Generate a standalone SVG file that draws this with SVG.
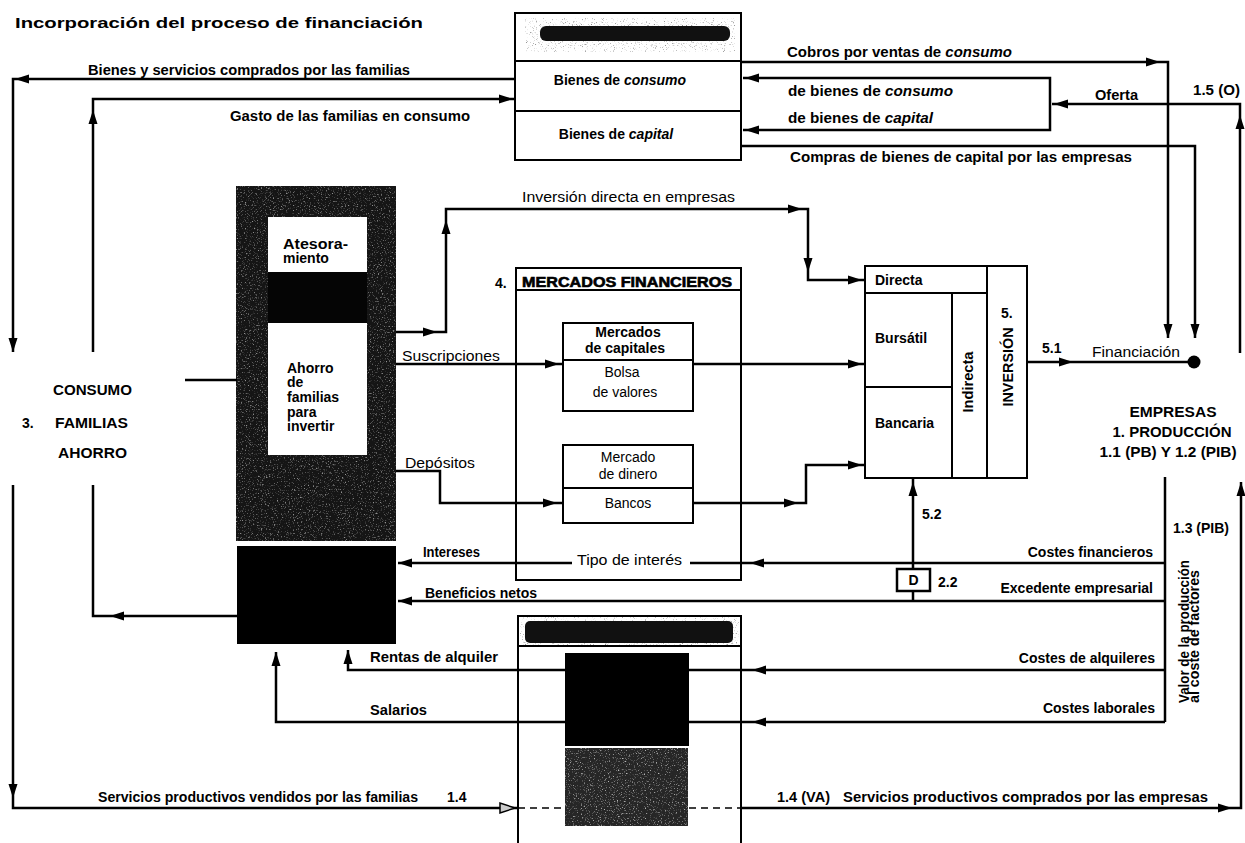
<svg xmlns="http://www.w3.org/2000/svg" xmlns:xlink="http://www.w3.org/1999/xlink" width="1245" height="843" viewBox="0 0 1245 843">
  <style>
    .t { font-family: "Liberation Sans", Arial, Helvetica, sans-serif; font-size: 14px; font-weight: bold; fill: #000; }
    .r { font-weight: normal; }
    .i { font-style: italic; }
    .box { fill: #fff; stroke: #000; stroke-width: 2; }
    .ln { fill: none; stroke: #000; stroke-width: 2; }
    .cn { fill: none; stroke: #000; stroke-width: 2.5; }
  </style>
  <defs>
    <!-- filled arrowhead, tip at the origin, pointing along +x -->
    <path id="ah" d="M0,0 L-14,-4.5 L-14,4.5 Z" fill="#000"/>
    <!-- light speckle used on the dark printed blocks -->
    <filter id="grainLight" x="0" y="0" width="1" height="1">
      <feTurbulence type="fractalNoise" baseFrequency="0.75" numOctaves="2" seed="7"/>
      <feColorMatrix type="matrix" values="0 0 0 0 0.8  0 0 0 0 0.8  0 0 0 0 0.8  4 0 0 0 -2.3"/>
      <feComposite in2="SourceGraphic" operator="in"/>
    </filter>
    <!-- dark speckle around smudged headings -->
    <filter id="grainDark" x="0" y="0" width="1" height="1">
      <feTurbulence type="fractalNoise" baseFrequency="0.9" numOctaves="2" seed="3"/>
      <feColorMatrix type="matrix" values="0 0 0 0 0.25  0 0 0 0 0.25  0 0 0 0 0.25  4 0 0 0 -2.4"/>
      <feComposite in2="SourceGraphic" operator="in"/>
    </filter>
  </defs>

  <rect width="1245" height="843" fill="#fff"/>

  <text class="t" x="15" y="28" font-size="18" textLength="408" lengthAdjust="spacingAndGlyphs">Incorporación del proceso de financiación</text>

  <!-- goods market -->
  <g id="mercado-bienes">
    <rect class="box" x="515" y="13" width="226" height="147"/>
    <line class="ln" x1="515" y1="61" x2="741" y2="61"/>
    <line class="ln" x1="515" y1="111" x2="741" y2="111"/>
    <rect x="525" y="18" width="210" height="34" fill="#000" filter="url(#grainDark)"/>
    <rect x="540" y="26" width="190" height="15" rx="6" fill="#111"/>
    <text class="t" x="620" y="85" text-anchor="middle">Bienes de <tspan class="i">consumo</tspan></text>
    <text class="t" x="616" y="139" text-anchor="middle">Bienes de <tspan class="i">capital</tspan></text>
  </g>

  <!-- household savings block -->
  <g id="ahorro-familias">
    <rect x="236" y="186" width="160" height="355" fill="#151515"/>
    <rect x="236" y="186" width="160" height="355" fill="#fff" opacity="0.6" filter="url(#grainLight)"/>
    <rect x="268" y="272" width="99" height="51" fill="#050505"/>
    <rect x="268" y="217" width="99" height="55" fill="#fff"/>
    <rect x="268" y="323" width="99" height="132" fill="#fff"/>
    <text class="t" x="283" y="249" textLength="65" lengthAdjust="spacingAndGlyphs">Atesora-</text>
    <text class="t" x="283" y="263">miento</text>
    <text class="t" x="287" y="373">Ahorro</text>
    <text class="t" x="287" y="387">de</text>
    <text class="t" x="287" y="402">familias</text>
    <text class="t" x="287" y="417">para</text>
    <text class="t" x="287" y="431">invertir</text>
  </g>

  <!-- households -->
  <g id="familias">
    <text class="t" x="53" y="395" textLength="79" lengthAdjust="spacingAndGlyphs">CONSUMO</text>
    <text class="t" x="22" y="428">3.</text>
    <text class="t" x="55" y="428" textLength="73" lengthAdjust="spacingAndGlyphs">FAMILIAS</text>
    <text class="t" x="58" y="458" textLength="69" lengthAdjust="spacingAndGlyphs">AHORRO</text>
  </g>

  <!-- financial markets -->
  <g id="mercados-financieros">
    <text class="t" x="495" y="288">4.</text>
    <rect class="box" x="516" y="268" width="225" height="312"/>
    <line class="ln" x1="516" y1="290" x2="741" y2="290"/>
    <text class="t" x="522" y="287" font-size="13.5" stroke="#000" stroke-width="0.6" textLength="210" lengthAdjust="spacingAndGlyphs">MERCADOS FINANCIEROS</text>
  </g>
  <g id="mercados-capitales">
    <rect class="box" x="563" y="323" width="130" height="88"/>
    <line class="ln" x1="563" y1="360" x2="693" y2="360"/>
    <text class="t" x="628" y="337" text-anchor="middle">Mercados</text>
    <text class="t" x="625" y="353" text-anchor="middle">de capitales</text>
    <text class="t r" x="622" y="377" text-anchor="middle">Bolsa</text>
    <text class="t r" x="625" y="397" text-anchor="middle">de  valores</text>
  </g>
  <g id="mercado-dinero">
    <rect class="box" x="563" y="445" width="130" height="78"/>
    <line class="ln" x1="563" y1="488" x2="693" y2="488"/>
    <text class="t r" x="628" y="462" text-anchor="middle">Mercado</text>
    <text class="t r" x="628" y="479" text-anchor="middle">de dinero</text>
    <text class="t r" x="628" y="508" text-anchor="middle">Bancos</text>
  </g>

  <!-- investment -->
  <g id="inversion">
    <rect class="box" x="865" y="266" width="162" height="212"/>
    <path class="ln" d="M865,293 H987 M987,266 V478 M952,293 V478 M865,387 H952"/>
    <text class="t" x="875" y="285">Directa</text>
    <text class="t" x="875" y="343">Bursátil</text>
    <text class="t" x="875" y="428">Bancaria</text>
    <text class="t" transform="translate(973,382) rotate(-90)" text-anchor="middle" textLength="61" lengthAdjust="spacingAndGlyphs">Indirecta</text>
    <text class="t" x="1001" y="318">5.</text>
    <text class="t" transform="translate(1013,367) rotate(-90)" text-anchor="middle" font-size="13.5" textLength="79" lengthAdjust="spacingAndGlyphs">INVERSIÓN</text>
  </g>

  <!-- firms -->
  <g id="empresas">
    <circle cx="1194" cy="362" r="6.5" fill="#000"/>
    <text class="t" x="1173" y="417" text-anchor="middle" textLength="87" lengthAdjust="spacingAndGlyphs">EMPRESAS</text>
    <text class="t" x="1172" y="437" text-anchor="middle" textLength="119" lengthAdjust="spacingAndGlyphs">1. PRODUCCIÓN</text>
    <text class="t" x="1168" y="457" text-anchor="middle" textLength="137" lengthAdjust="spacingAndGlyphs">1.1 (PB) Y 1.2 (PIB)</text>
    <text class="t" x="1173" y="533">1.3 (PIB)</text>
    <text class="t" font-size="12.5" transform="translate(1189,703) rotate(-90)" textLength="143" lengthAdjust="spacingAndGlyphs">Valor de la producción</text>
    <text class="t" font-size="12.5" transform="translate(1199,703) rotate(-90)" textLength="133" lengthAdjust="spacingAndGlyphs">al coste de factores</text>
  </g>

  <!-- household income -->
  <g id="rentas-familias">
    <rect x="237" y="546" width="159" height="98" fill="#000"/>
  </g>

  <!-- factor markets -->
  <g id="mercado-factores">
    <path class="ln" d="M518,843 V616 H741 V843"/>
    <line class="ln" x1="518" y1="646" x2="741" y2="646"/>
    <rect x="520" y="617" width="219" height="28" fill="#000" filter="url(#grainDark)"/>
    <rect x="525" y="621" width="208" height="22" rx="5" fill="#111"/>
    <rect x="565" y="653" width="124" height="93" fill="#000"/>
    <rect x="565" y="748" width="123" height="78" fill="#262626"/>
    <rect x="565" y="748" width="123" height="78" fill="#fff" opacity="0.75" filter="url(#grainLight)"/>
  </g>

  <!-- dividend box -->
  <g id="dividendos">
    <rect x="897" y="569" width="33" height="22" fill="#fff" stroke="#000" stroke-width="2.5"/>
    <text class="t" x="913.5" y="585" text-anchor="middle">D</text>
    <text class="t" x="938" y="587">2.2</text>
    <text class="t" x="922" y="519">5.2</text>
  </g>

  <g id="connectors">
    <path class="cn" d="M515,79 H13 V352"/>
    <path class="cn" d="M93,352 V99 H515"/>
    <path class="cn" d="M237,616 H93 V485"/>
    <path class="cn" d="M13,485 V808 H518"/>
    <path fill="none" stroke="#000" stroke-width="1.5" stroke-dasharray="7,5" d="M518,808 H565 M689,808 H741"/>
    <path class="cn" d="M741,808 H1241 V482"/>
    <path class="cn" d="M1240,353 V104 H1052"/>
    <path class="cn" d="M743,78 H1050 V130 H743"/>
    <path class="cn" d="M741,62 H1168 V338"/>
    <path class="cn" d="M741,146 H1195 V338"/>
    <path class="cn" d="M396,332 H446 V209 H808 V280 H865"/>
    <path class="cn" d="M396,364 H563 M693,364 H865"/>
    <path class="cn" d="M396,471 H440 V503 H563 M693,503 H806 V465 H865"/>
    <path class="cn" d="M1027,362 H1190"/>
    <path class="cn" d="M913,478 V569 M913,591 V601"/>
    <path class="cn" d="M185,380 H237"/>
    <path class="cn" d="M1165,477 V722"/>
    <path class="cn" d="M1165,563 H690 M572,563 H398"/>
    <path class="cn" d="M1165,601 H398"/>
    <path class="cn" d="M1165,670 H348 V650"/>
    <path class="cn" d="M1165,722 H276 V652"/>

    <use xlink:href="#ah" transform="translate(15,79) rotate(180)"/>
    <use xlink:href="#ah" transform="translate(13,352) rotate(90)"/>
    <use xlink:href="#ah" transform="translate(93,110) rotate(-90)"/>
    <use xlink:href="#ah" transform="translate(513,99)"/>
    <use xlink:href="#ah" transform="translate(110,616) rotate(180)"/>
    <use xlink:href="#ah" transform="translate(13,798) rotate(90)"/>
    <path d="M515,808 L500,803 L500,813 Z" fill="#ccc" stroke="#000" stroke-width="1.5"/>
    <use xlink:href="#ah" transform="translate(1232,808)"/>
    <use xlink:href="#ah" transform="translate(1241,482) rotate(-90)"/>
    <use xlink:href="#ah" transform="translate(1240,115) rotate(-90)"/>
    <use xlink:href="#ah" transform="translate(1054,104) rotate(180)"/>
    <use xlink:href="#ah" transform="translate(745,78) rotate(180)"/>
    <use xlink:href="#ah" transform="translate(745,130) rotate(180)"/>
    <use xlink:href="#ah" transform="translate(1160,62)"/>
    <use xlink:href="#ah" transform="translate(1168,338) rotate(90)"/>
    <use xlink:href="#ah" transform="translate(1195,338) rotate(90)"/>
    <use xlink:href="#ah" transform="translate(437,332)"/>
    <use xlink:href="#ah" transform="translate(446,220) rotate(-90)"/>
    <use xlink:href="#ah" transform="translate(802,209)"/>
    <use xlink:href="#ah" transform="translate(808,272) rotate(90)"/>
    <use xlink:href="#ah" transform="translate(862,280)"/>
    <use xlink:href="#ah" transform="translate(559,364)"/>
    <use xlink:href="#ah" transform="translate(862,364)"/>
    <use xlink:href="#ah" transform="translate(557,503)"/>
    <use xlink:href="#ah" transform="translate(798,503)"/>
    <use xlink:href="#ah" transform="translate(862,465)"/>
    <use xlink:href="#ah" transform="translate(1073,362)"/>
    <use xlink:href="#ah" transform="translate(913,482) rotate(-90)"/>
    <use xlink:href="#ah" transform="translate(750,563) rotate(180)"/>
    <use xlink:href="#ah" transform="translate(398,563) rotate(180)"/>
    <use xlink:href="#ah" transform="translate(398,601) rotate(180)"/>
    <use xlink:href="#ah" transform="translate(752,670) rotate(180)"/>
    <use xlink:href="#ah" transform="translate(348,650) rotate(-90)"/>
    <use xlink:href="#ah" transform="translate(752,722) rotate(180)"/>
    <use xlink:href="#ah" transform="translate(276,652) rotate(-90)"/>

    <!-- flow labels -->
    <text class="t" x="88" y="75" textLength="322" lengthAdjust="spacingAndGlyphs">Bienes y servicios comprados por las familias</text>
    <text class="t" x="230" y="121" textLength="240" lengthAdjust="spacingAndGlyphs">Gasto de las familias en consumo</text>
    <text class="t" x="787" y="57" textLength="225" lengthAdjust="spacingAndGlyphs">Cobros por ventas de <tspan class="i">consumo</tspan></text>
    <text class="t" x="788" y="96" textLength="165" lengthAdjust="spacingAndGlyphs">de bienes de <tspan class="i">consumo</tspan></text>
    <text class="t" x="788" y="123" textLength="145" lengthAdjust="spacingAndGlyphs">de bienes de <tspan class="i">capital</tspan></text>
    <text class="t" x="1095" y="100" textLength="43" lengthAdjust="spacingAndGlyphs">Oferta</text>
    <text class="t" x="1193" y="95" textLength="47" lengthAdjust="spacingAndGlyphs">1.5 (O)</text>
    <text class="t" x="790" y="162" textLength="342" lengthAdjust="spacingAndGlyphs">Compras de bienes de capital por las empresas</text>
    <text class="t r" x="522" y="202" textLength="213" lengthAdjust="spacingAndGlyphs">Inversión directa en empresas</text>
    <text class="t r" x="402" y="361" textLength="98" lengthAdjust="spacingAndGlyphs">Suscripciones</text>
    <text class="t r" x="405" y="468" textLength="70" lengthAdjust="spacingAndGlyphs">Depósitos</text>
    <text class="t" x="1042" y="353">5.1</text>
    <text class="t r" x="1092" y="357" textLength="88" lengthAdjust="spacingAndGlyphs">Financiación</text>
    <text class="t" x="423" y="557" textLength="57" lengthAdjust="spacingAndGlyphs">Intereses</text>
    <text class="t r" x="577" y="565" textLength="105" lengthAdjust="spacingAndGlyphs">Tipo de interés</text>
    <text class="t" x="425" y="598">Beneficios netos</text>
    <text class="t" x="1153" y="557" text-anchor="end">Costes financieros</text>
    <text class="t" x="1153" y="593" text-anchor="end">Excedente empresarial</text>
    <text class="t" x="370" y="662" textLength="128" lengthAdjust="spacingAndGlyphs">Rentas de alquiler</text>
    <text class="t" x="1155" y="663" text-anchor="end">Costes de alquileres</text>
    <text class="t" x="370" y="715" textLength="57" lengthAdjust="spacingAndGlyphs">Salarios</text>
    <text class="t" x="1155" y="713" text-anchor="end">Costes laborales</text>
    <text class="t" x="98" y="802" textLength="320" lengthAdjust="spacingAndGlyphs">Servicios productivos vendidos por las familias</text>
    <text class="t" x="447" y="802">1.4</text>
    <text class="t" x="777" y="802" textLength="53" lengthAdjust="spacingAndGlyphs">1.4 (VA)</text>
    <text class="t" x="843" y="802" textLength="365" lengthAdjust="spacingAndGlyphs">Servicios productivos comprados por las empresas</text>
  </g>
</svg>
